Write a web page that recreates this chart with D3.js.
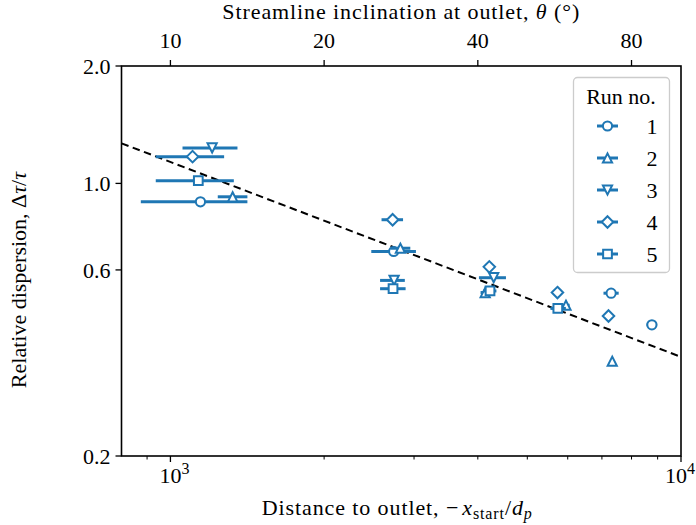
<!DOCTYPE html>
<html><head><meta charset="utf-8">
<script src="https://cdn.jsdelivr.net/npm/d3@7"></script>
<style>body{margin:0;background:#fff}svg{display:block}text{font-family:"Liberation Serif","DejaVu Serif",serif;fill:#000}</style>
</head><body><svg id="c" width="696" height="525"></svg>
<script>
// ---- data ----
const runs = ["1","2","3","4","5"];
const markers = ["circle","triUp","triDown","diamond","square"];
// x = distance to outlet, y = relative dispersion, xlo/xhi = horizontal error bar extent
const run1X = [1145, 2737, 7297, 8770];
const run1Y = [0.897, 0.669, 0.523, 0.434];
const run1Lo = [875, 2474, 7050, 8560];
const run1Hi = [1415, 3026, 7550, 8980];
const run2X = [1324, 2821, 4135, 5953, 7334];
const run2Y = [0.924, 0.682, 0.525, 0.487, 0.350];
const run2Lo = [1238, 2700, 4050, 5850, 7334];
const run2Hi = [1415, 2950, 4220, 6050, 7334];
const run3X = [1207, 2742, 4297];
const run3Y = [1.233, 0.564, 0.573];
const run3Lo = [1056, 2574, 4020];
const run3Hi = [1353, 2878, 4541];
const run4X = [1105, 2724, 4213, 5728, 7211];
const run4Y = [1.171, 0.807, 0.611, 0.525, 0.457];
const run4Lo = [936, 2591, 4150, 5650, 7211];
const run4Hi = [1274, 2855, 4280, 5800, 7211];
const run5X = [1134, 2729, 4226, 5738];
const run5Y = [1.016, 0.537, 0.530, 0.478];
const run5Lo = [936, 2574, 4100, 5550];
const run5Hi = [1331, 2888, 4350, 5950];
const fitX = [802, 10000];
const fitY = [1.267, 0.359];
const yTicks = [0.2, 0.6, 1.0, 2.0];
const yTickLabels = ["0.2", "0.6", "1.0", "2.0"];
const xMajor = [1000, 10000];
const xMajorExp = ["3", "4"];
const xMinor = [900, 2000, 3000, 4000, 5000, 6000, 7000, 8000, 9000];
const thetaTicks = [10, 20, 40, 80];
const thetaLabels = ["10", "20", "40", "80"];

const series = [
  {x: run1X, y: run1Y, lo: run1Lo, hi: run1Hi},
  {x: run2X, y: run2Y, lo: run2Lo, hi: run2Hi},
  {x: run3X, y: run3Y, lo: run3Lo, hi: run3Hi},
  {x: run4X, y: run4Y, lo: run4Lo, hi: run4Hi},
  {x: run5X, y: run5Y, lo: run5Lo, hi: run5Hi}
];

// ---- layout ----
const L = 121.5, R = 681, T = 66, B = 456;
const FS = 22, FSS = 16;
const color = "#1f77b4";
const svg = d3.select("#c");
const x = d3.scaleLog().domain([802, 10000]).range([L, R]);
const y = d3.scaleLog().domain([0.2, 2.0]).range([B, T]);
const xt = d3.scaleLog().domain([8.02, 100]).range([L, R]);

function markerPath(type, s) {
  const p = d3.path();
  if (type === "circle") { p.arc(0, 0, s, 0, 2*Math.PI); }
  else if (type === "triUp") { p.moveTo(0, -s); p.lineTo(-s, s); p.lineTo(s, s); p.closePath(); }
  else if (type === "triDown") { p.moveTo(0, s); p.lineTo(-s, -s); p.lineTo(s, -s); p.closePath(); }
  else if (type === "diamond") { const d = s*1.25; p.moveTo(0, -d); p.lineTo(d, 0); p.lineTo(0, d); p.lineTo(-d, 0); p.closePath(); }
  else if (type === "square") { const d = s*0.95; p.rect(-d, -d, 2*d, 2*d); }
  return p.toString();
}
const MS = 4.6;

// fit line
svg.append("path")
  .attr("d", d3.line().x(d => x(d[0])).y(d => y(d[1]))(fitX.map((v, i) => [v, fitY[i]])))
  .attr("stroke", "#000").attr("stroke-width", 2).attr("stroke-dasharray", "7.5,4.5").attr("fill", "none");

// data
series.forEach((s, k) => {
  const g = svg.append("g");
  s.x.forEach((xv, i) => {
    if (s.hi[i] > s.lo[i]) {
      g.append("line").attr("x1", x(s.lo[i])).attr("x2", x(s.hi[i]))
        .attr("y1", y(s.y[i])).attr("y2", y(s.y[i]))
        .attr("stroke", color).attr("stroke-width", 3);
    }
  });
  s.x.forEach((xv, i) => {
    g.append("path").attr("d", markerPath(markers[k], MS))
      .attr("transform", `translate(${x(xv)},${y(s.y[i])})`)
      .attr("fill", "#fff").attr("stroke", color).attr("stroke-width", 2);
  });
});

// frame
svg.append("rect").attr("x", L).attr("y", T).attr("width", R - L).attr("height", B - T)
  .attr("fill", "none").attr("stroke", "#000").attr("stroke-width", 1.6);

// y axis ticks
yTicks.forEach((v, i) => {
  svg.append("line").attr("x1", L - 6).attr("x2", L).attr("y1", y(v)).attr("y2", y(v)).attr("stroke", "#000").attr("stroke-width", 1.3);
  svg.append("text").attr("x", L - 11).attr("y", y(v)).attr("dy", "0.35em").attr("text-anchor", "end")
    .attr("font-size", FS).text(yTickLabels[i]);
});
// x bottom ticks
xMinor.forEach(v => {
  svg.append("line").attr("x1", x(v)).attr("x2", x(v)).attr("y1", B).attr("y2", B + 3.5).attr("stroke", "#000").attr("stroke-width", 1);
});
xMajor.forEach((v, i) => {
  svg.append("line").attr("x1", x(v)).attr("x2", x(v)).attr("y1", B).attr("y2", B + 6).attr("stroke", "#000").attr("stroke-width", 1.3);
  const last = i === xMajor.length - 1;
  const t = svg.append("text").attr("x", last ? 695 : x(v) + 4).attr("y", 483)
    .attr("text-anchor", last ? "end" : "middle").attr("font-size", FS);
  t.append("tspan").text("10");
  t.append("tspan").attr("dy", -9).attr("font-size", FSS).text(xMajorExp[i]);
});
// top ticks
thetaTicks.forEach((v, i) => {
  svg.append("line").attr("x1", xt(v)).attr("x2", xt(v)).attr("y1", T - 6).attr("y2", T).attr("stroke", "#000").attr("stroke-width", 1.3);
  svg.append("text").attr("x", xt(v)).attr("y", 48).attr("text-anchor", "middle").attr("font-size", FS).text(thetaLabels[i]);
});

// axis titles
const tt = svg.append("text").attr("x", (L + R) / 2).attr("y", 19).attr("text-anchor", "middle")
  .attr("font-size", FS).attr("letter-spacing", 0.9);
tt.append("tspan").text("Streamline inclination at outlet, ");
tt.append("tspan").attr("font-style", "italic").text("θ");
tt.append("tspan").text(" (°)");

const xl = svg.append("text").attr("x", (L + R) / 2 - 4).attr("y", 515).attr("text-anchor", "middle")
  .attr("font-size", FS).attr("letter-spacing", 0.9);
xl.append("tspan").text("Distance to outlet, ");
xl.append("tspan").text("−");
xl.append("tspan").attr("font-style", "italic").attr("dx", 3).text("x");
xl.append("tspan").attr("font-size", FSS).attr("dy", 4).text("start");
xl.append("tspan").attr("dy", -4).text("/");
xl.append("tspan").attr("font-style", "italic").text("d");
xl.append("tspan").attr("font-size", FSS).attr("font-style", "italic").attr("dy", 4).text("p");

const yl = svg.append("text").attr("transform", `translate(26,280) rotate(-90)`).attr("text-anchor", "middle")
  .attr("font-size", FS);
yl.append("tspan").text("Relative dispersion, Δ");
yl.append("tspan").attr("font-style", "italic").text("τ");
yl.append("tspan").text("/");
yl.append("tspan").attr("font-style", "italic").text("τ");

// legend
const lg = svg.append("g");
lg.append("rect").attr("x", 573.5).attr("y", 77.5).attr("width", 96).attr("height", 195).attr("rx", 4)
  .attr("fill", "#fff").attr("fill-opacity", 0.8).attr("stroke", "#ccc").attr("stroke-width", 1.3);
lg.append("text").attr("x", 621).attr("y", 104).attr("text-anchor", "middle").attr("font-size", FS).text("Run no.");
runs.forEach((r, i) => {
  const yy = 126 + i * 32;
  lg.append("line").attr("x1", 597).attr("x2", 618).attr("y1", yy).attr("y2", yy).attr("stroke", color).attr("stroke-width", 3);
  lg.append("path").attr("d", markerPath(markers[i], MS)).attr("transform", `translate(607.5,${yy})`)
    .attr("fill", "#fff").attr("stroke", color).attr("stroke-width", 2);
  lg.append("text").attr("x", 652).attr("y", yy).attr("dy", "0.35em").attr("text-anchor", "middle").attr("font-size", FS).text(r);
});
</script></body></html>
